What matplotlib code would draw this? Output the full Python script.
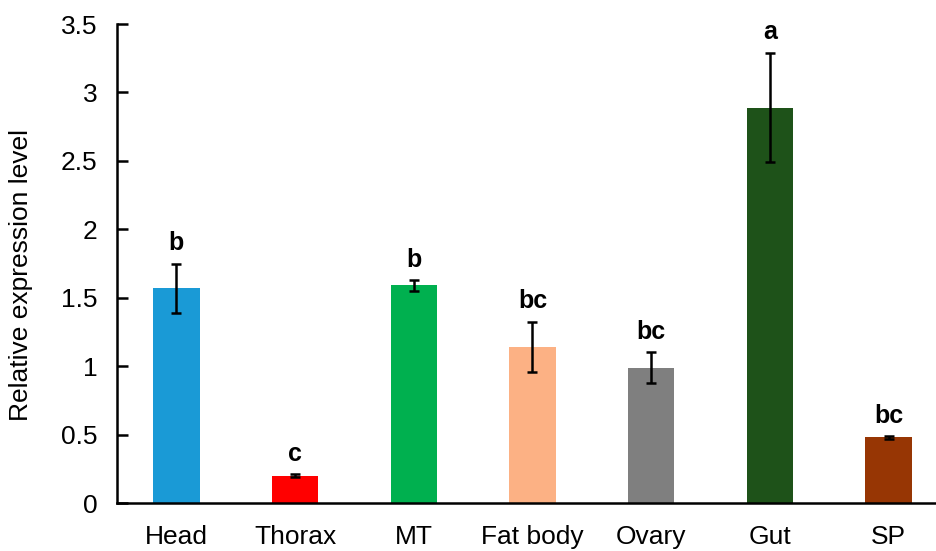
import matplotlib
matplotlib.use("Agg")
import matplotlib.pyplot as plt

plt.rcParams['font.family'] = ['Liberation Sans', 'DejaVu Sans']

tissues = ["Head", "Thorax", "MT", "Fat body", "Ovary", "Gut", "SP"]
expression = [1.57, 0.20, 1.59, 1.14, 0.99, 2.89, 0.48]
errors = [0.18, 0.01, 0.04, 0.185, 0.11, 0.40, 0.01]
letters = ["b", "c", "b", "bc", "bc", "a", "bc"]
colors = ["#1A9AD6", "#FF0000", "#00B04F", "#FCB184", "#7F7F7F", "#1E5219", "#973604"]
yticks = [0, 0.5, 1, 1.5, 2, 2.5, 3, 3.5]
ytick_labels = ["0", "0.5", "1", "1.5", "2", "2.5", "3", "3.5"]

fig = plt.figure(figsize=(9.37, 5.51), dpi=100)
ax = fig.add_axes([0.1249, 0.0871, 0.8868, 0.8693])

x = list(range(len(tissues)))
ax.bar(x, expression, width=0.39, color=colors, zorder=2)
ax.errorbar(x, expression, yerr=errors, fmt="none", ecolor="black",
            elinewidth=1.8, capsize=3.8, capthick=1.8, zorder=3)

for xi, v, e, lab in zip(x, expression, errors, letters):
    ax.annotate(lab, (xi, v + e), xytext=(0, 6), textcoords="offset points",
                ha="center", va="bottom", fontsize=18, fontweight="bold")

ax.set_xlim(-0.5, 6.5)
ax.set_ylim(0, 3.5)
ax.set_yticks(yticks)
ax.set_yticklabels(ytick_labels)
ax.set_xticks(x)
ax.set_xticklabels(tissues)
ax.tick_params(axis="y", direction="in", length=8, width=1.8, pad=14, labelsize=19)
ax.tick_params(axis="x", length=0, pad=16, labelsize=19)
ax.set_ylabel("Relative expression level", fontsize=19)
ax.yaxis.set_label_coords(-0.101, 0.476)

for side in ["top", "right"]:
    ax.spines[side].set_visible(False)
for side in ["left", "bottom"]:
    ax.spines[side].set_linewidth(1.8)

fig.savefig("out.png", dpi=100)
